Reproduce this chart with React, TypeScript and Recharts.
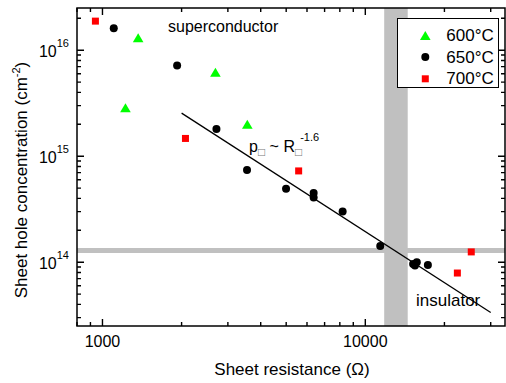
import React from "react";
import {
  ScatterChart,
  Scatter,
  XAxis,
  YAxis,
  ReferenceArea,
  Legend,
  Customized,
} from "recharts";

const FONT = "'Liberation Sans', Arial, Helvetica, sans-serif";

// sheet resistance (ohm) vs sheet hole concentration (cm^-2)
const series600 = [
  { x: 1367, y: 1.31e16 },
  { x: 1223, y: 2.86e15 },
  { x: 2690, y: 6.2e15 },
  { x: 3557, y: 2.0e15 },
];

const series650 = [
  { x: 1104, y: 1.61e16 },
  { x: 1923, y: 7.17e15 },
  { x: 2714, y: 1.8e15 },
  { x: 3548, y: 7.4e14 },
  { x: 4994, y: 4.92e14 },
  { x: 6360, y: 4.5e14 },
  { x: 6360, y: 4.07e14 },
  { x: 8199, y: 3.0e14 },
  { x: 11400, y: 1.42e14 },
  { x: 15200, y: 9.6e13 },
  { x: 15700, y: 1.0e14 },
  { x: 15450, y: 9.3e13 },
  { x: 17300, y: 9.43e13 },
];

const series700 = [
  { x: 940, y: 1.88e16 },
  { x: 2069, y: 1.47e15 },
  { x: 5577, y: 7.26e14 },
  { x: 25300, y: 1.25e14 },
  { x: 22400, y: 7.9e13 },
];

// p ~ R^-1.6 fit, end points
const fitLine = [
  { x: 2000, y: 2.55e15 },
  { x: 30000, y: 3.35e13 },
];

const groups = [
  { name: "600°C", data: series600, color: "#00ff00", marker: "triangle" },
  { name: "650°C", data: series650, color: "#000000", marker: "circle" },
  { name: "700°C", data: series700, color: "#ff0000", marker: "square" },
];

const xDomain = [800, 34000];
const yDomain = [2.5e13, 2.5e16];
const rBand = [11800, 14500];
const pBand = [1.22e14, 1.36e14];

// plot box, set by the chart margins and axis sizes below
const BOX = { left: 77, right: 505, top: 8, bottom: 326 };

function logTicks(lo: number, hi: number) {
  const out: number[] = [];
  for (let e = Math.floor(Math.log10(lo)); e <= Math.ceil(Math.log10(hi)); e++) {
    for (let m = 1; m <= 9; m++) {
      const v = m * Math.pow(10, e);
      if (v >= lo && v <= hi) out.push(v);
    }
  }
  return out;
}

const xTicks = logTicks(xDomain[0], xDomain[1]);
const yTicks = logTicks(yDomain[0], yDomain[1]);

const isMajor = (v: number) =>
  Math.abs(Math.log10(v) - Math.round(Math.log10(v))) < 1e-9;

const MAJOR = 7;
const MINOR = 4;

const BottomLabel = ({ x, y, payload }: any) =>
  isMajor(payload.value) ? (
    <text x={x} y={y + 21} textAnchor="middle" fontSize={16} fill="#000" fontFamily={FONT}>
      {payload.value}
    </text>
  ) : (
    <g />
  );

const LeftLabel = ({ x, y, payload }: any) =>
  isMajor(payload.value) ? (
    <text x={x - 8} y={y + 6.5} textAnchor="end" fontSize={16} fill="#000" fontFamily={FONT}>
      <tspan>10</tspan>
      <tspan dy={-9.5} fontSize={11}>
        {Math.round(Math.log10(payload.value))}
      </tspan>
    </text>
  ) : (
    <g />
  );

// frame and inward ticks on all four sides, drawn as an overlay over the chart
const FrameOverlay = () => {
  const lx = (v: number) => Math.log10(v);
  const sx = (v: number) =>
    BOX.left + ((lx(v) - lx(xDomain[0])) / (lx(xDomain[1]) - lx(xDomain[0]))) * (BOX.right - BOX.left);
  const sy = (v: number) =>
    BOX.bottom - ((lx(v) - lx(yDomain[0])) / (lx(yDomain[1]) - lx(yDomain[0]))) * (BOX.bottom - BOX.top);
  let d = "";
  xTicks.forEach((v) => {
    const len = isMajor(v) ? MAJOR : MINOR;
    const x = sx(v);
    d += `M${x},${BOX.bottom}V${BOX.bottom - len}M${x},${BOX.top}V${BOX.top + len}`;
  });
  yTicks.forEach((v) => {
    const len = isMajor(v) ? MAJOR : MINOR;
    const y = sy(v);
    d += `M${BOX.left},${y}H${BOX.left + len}M${BOX.right},${y}H${BOX.right - len}`;
  });
  return (
    <svg
      width={506}
      height={383}
      style={{ position: "absolute", left: 0, top: 0, pointerEvents: "none", zIndex: 5 }}
    >
      <path d={d} stroke="#000" strokeWidth={1.4} fill="none" />
      <rect
        x={BOX.left}
        y={BOX.top}
        width={BOX.right - BOX.left}
        height={BOX.bottom - BOX.top}
        stroke="#000"
        strokeWidth={1.5}
        fill="none"
      />
    </svg>
  );
};

const Marker = ({ cx, cy, kind, color }: any) => {
  if (kind === "triangle") {
    return (
      <polygon
        points={`${cx},${cy - 4.5} ${cx + 5.3},${cy + 4.5} ${cx - 5.3},${cy + 4.5}`}
        fill={color}
      />
    );
  }
  if (kind === "square") {
    return <rect x={cx - 3.5} y={cy - 3.5} width={7} height={7} fill={color} />;
  }
  return <circle cx={cx} cy={cy} r={4} fill={color} />;
};

const LegendBox = () => (
  <div style={{ width: 100, height: 68, border: "1px solid #000", background: "#fff" }}>
    <svg width={100} height={68} style={{ display: "block" }}>
      {groups.map((g, i) => (
        <g key={g.name}>
          <Marker cx={27.3} cy={16.4 + i * 21.7} kind={g.marker} color={g.color} />
          <text x={48.3} y={22.4 + i * 21.2} fontSize={17} fill="#000" fontFamily={FONT}>
            {g.name}
          </text>
        </g>
      ))}
    </svg>
  </div>
);

const Annotations = () => (
  <g fontFamily={FONT} fill="#000">
    <text x={168} y={31.5} fontSize={16}>superconductor</text>
    <text x={416} y={306} fontSize={17}>insulator</text>
    <text x={249} y={151.7} fontSize={16}>
      <tspan>p</tspan>
      <tspan fontSize={12} dy={4} fill="#777">□</tspan>
      <tspan dy={-4}> ~ R</tspan>
      <tspan fontSize={12} dy={4} fill="#777">□</tspan>
      <tspan fontSize={11} dx={-2} dy={-15}>-1.6</tspan>
    </text>
    <text x={292} y={375} fontSize={17} textAnchor="middle">
      Sheet resistance (Ω)
    </text>
    <text transform="translate(27,180) rotate(-90)" fontSize={17} textAnchor="middle">
      Sheet hole concentration (cm
      <tspan dy={-7} fontSize={11}>-2</tspan>
      <tspan dy={7}>)</tspan>
    </text>
  </g>
);

export default function App() {
  return (
    <div style={{ position: "absolute", left: 0, top: 0, width: 506, height: 383, background: "#fff" }}>
      <ScatterChart
        width={506}
        height={383}
        margin={{ top: 7, right: 0, bottom: 0, left: 0 }}
        style={{ fontFamily: FONT }}
      >
        <XAxis
          type="number"
          dataKey="x"
          scale="log"
          domain={xDomain}
          allowDataOverflow
          ticks={xTicks}
          interval={0}
          height={57}
          tickSize={0}
          tickMargin={0}
          tickLine={false}
          axisLine={false}
          tick={<BottomLabel />}
        />
        <XAxis
          xAxisId="top"
          orientation="top"
          type="number"
          dataKey="x"
          scale="log"
          domain={xDomain}
          allowDataOverflow
          height={1}
          tick={false}
          tickLine={false}
          axisLine={false}
        />
        <YAxis
          type="number"
          dataKey="y"
          scale="log"
          domain={yDomain}
          allowDataOverflow
          ticks={yTicks}
          interval={0}
          width={77}
          tickSize={0}
          tickMargin={0}
          tickLine={false}
          axisLine={false}
          tick={<LeftLabel />}
        />
        <YAxis
          yAxisId="right"
          orientation="right"
          type="number"
          dataKey="y"
          scale="log"
          domain={yDomain}
          allowDataOverflow
          width={1}
          tick={false}
          tickLine={false}
          axisLine={false}
        />
        <ReferenceArea x1={rBand[0]} x2={rBand[1]} fill="#c0c0c0" fillOpacity={1} stroke="none" />
        <ReferenceArea y1={pBand[0]} y2={pBand[1]} fill="#c0c0c0" fillOpacity={1} stroke="none" />
        <Scatter
          data={fitLine}
          xAxisId="top"
          yAxisId="right"
          line={{ stroke: "#000", strokeWidth: 1.3 }}
          shape={() => <g />}
          legendType="none"
          isAnimationActive={false}
        />
        {groups.map((g) => (
          <Scatter
            key={g.name}
            name={g.name}
            data={g.data}
            fill={g.color}
            isAnimationActive={false}
            shape={(p: any) => <Marker cx={p.cx} cy={p.cy} kind={g.marker} color={g.color} />}
          />
        ))}
        <Customized component={Annotations} />
        <Legend
          layout="vertical"
          align="center"
          verticalAlign="middle"
          wrapperStyle={{ left: 396.7, top: 18.3, width: "auto", height: "auto" }}
          content={() => <LegendBox />}
        />
      </ScatterChart>
      <FrameOverlay />
    </div>
  );
}
